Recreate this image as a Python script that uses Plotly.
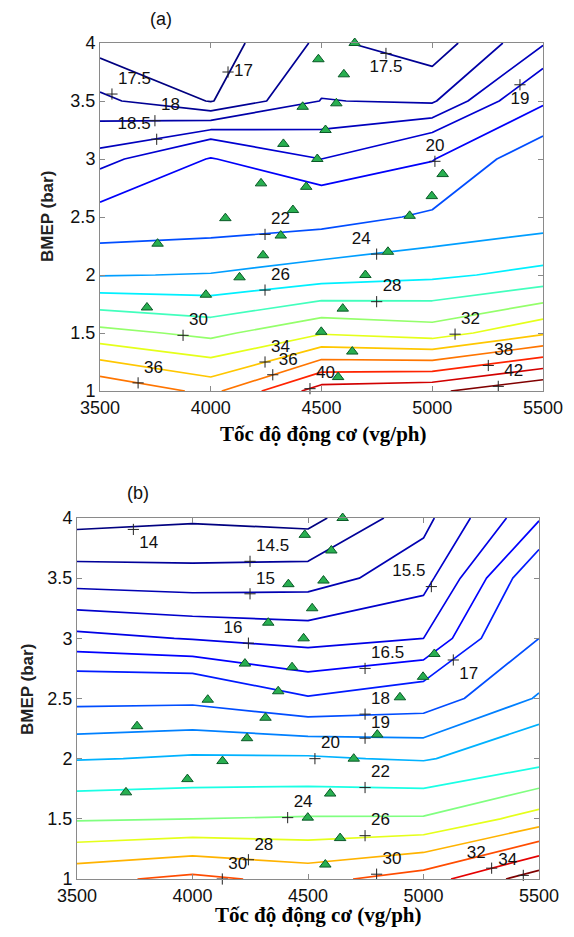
import plotly.graph_objects as go

# ---------------- data ----------------
speed = [3500, 4000, 4500, 5000, 5500]          # rpm (grid columns)
bmep = [1.0, 1.5, 2.0, 2.5, 3.0, 3.5, 4.0]        # bar (grid rows)

# panel (a) map values, rows = bmep, cols = speed
z_a = [
    [37.8, 35.45, 41.0, 41.6, 44.0],
    [30.7, 29.45, 31.8, 31.0, 33.7],
    [23.9, 24.1, 25.0, 25.6, 26.6],
    [20.45, 20.82, 21.2, 22.3, 23.0],
    [18.7, 20.06, 19.0, 19.9, 23.5],
    [17.63, 16.97, 18.02, 17.93, 19.7],
    [16.78, 16.73, 17.6, 17.21, 18.45],
]
levels_a = [17, 17.5, 18, 18.5, 19, 20, 22, 24, 26, 28, 30, 32, 34, 36, 38, 40, 42]

# panel (b) map values
z_b = [
    [29.45, 30.5, 29.36, 31.0, 35.2],
    [23.8, 24.0, 24.16, 24.2, 26.9],
    [19.9, 20.15, 20.15, 19.85, 21.2],
    [17.7, 17.74, 17.05, 17.4, 19.1],
    [16.16, 15.97, 15.81, 16.0, 18.0],
    [14.76, 14.69, 14.76, 15.3, 17.5],
    [13.82, 13.93, 13.83, 14.85, 16.45],
]
levels_b = [14, 14.5, 15, 15.5, 16, 16.5, 17, 18, 19, 20, 22, 24, 26, 28, 30, 32, 34]

# measured operating points (same for both panels)
pts_speed = [4650, 4486, 4601, 4415, 4567, 4518, 4328, 4481, 4227, 4431, 5047, 4998, 4898,
             4371, 4066, 4316, 3760, 4236, 4130, 3978, 3712, 4800, 4698, 4596, 4499, 4639, 4575]
pts_bmep = [4.0, 3.86, 3.73, 3.45, 3.48, 3.25, 3.13, 3.00, 2.79, 2.76, 2.87, 2.68, 2.51,
            2.56, 2.49, 2.34, 2.27, 2.17, 1.98, 1.83, 1.72, 2.20, 2.00, 1.71, 1.51, 1.34, 1.12]

# contour labels (a)
lab_a_text = ["17", "17.5", "17.5", "18", "18.5", "19", "20", "22", "24", "26", "28",
              "30", "32", "34", "36", "36", "38", "40", "42"]
lab_a_x = [4078, 3554, 4791, 3748, 3756, 5396, 5012, 4245, 4749, 4245, 4749,
           3875, 5103, 4245, 3672, 4280, 5253, 4448, 5298]
lab_a_y = [3.75, 3.56, 3.91, 3.33, 3.17, 3.64, 2.98, 2.35, 2.18, 1.87, 1.77,
           1.48, 1.49, 1.25, 1.07, 1.14, 1.22, 1.02, 1.04]
lab_a_pos = ["middle right", "top right", "bottom center", "top right", "top left",
             "bottom center", "top center", "top right", "top left", "top right", "top right",
             "top right", "top right", "top right", "top right", "top right", "top right",
             "top right", "top right"]

# contour labels (b)
lab_b_text = ["14", "14.5", "15", "15.5", "16", "16.5", "17", "18", "19", "20", "22",
              "24", "26", "28", "30", "30", "32", "34"]
lab_b_x = [3744, 4249, 4249, 5034, 4242, 4747, 5129, 4747, 4747, 4530, 4747,
           4412, 4747, 4242, 4129, 4797, 5295, 5432]
lab_b_y = [3.905, 3.64, 3.37, 3.43, 2.96, 2.75, 2.82, 2.37, 2.17, 2.0, 1.76,
           1.51, 1.36, 1.16, 1.0, 1.04, 1.09, 1.03]
lab_b_pos = ["bottom right", "top right", "top right", "top left", "top left", "top right",
             "bottom right", "top right", "top right", "top right", "top right",
             "top right", "top right", "top right", "top right", "top right", "top left",
             "top left"]

x_ticks = [3500, 4000, 4500, 5000, 5500]
y_ticks = [1, 1.5, 2, 2.5, 3, 3.5, 4]

# ---------------- styling ----------------
SANS = "Liberation Sans, Arial, sans-serif"
SERIF = "Liberation Serif, Times New Roman, serif"


def jet(t):
    def c(v):
        return int(round(255 * max(0.0, min(1.0, v))))
    return "rgb(%d,%d,%d)" % (c(1.5 - abs(4 * t - 3)), c(1.5 - abs(4 * t - 2)), c(1.5 - abs(4 * t - 1)))


fig = go.Figure()


def add_contours(z, levels, xa, ya):
    lo, hi = min(levels), max(levels)
    for lv in levels:
        col = jet((lv - lo) / (hi - lo))
        fig.add_trace(go.Contour(
            x=speed, y=bmep, z=z, autocontour=False,
            contours=dict(coloring="lines", start=lv, end=lv, size=1, showlabels=False),
            line=dict(width=1.7, smoothing=0),
            colorscale=[[0, col], [1, col]], showscale=False,
            hoverinfo="skip", xaxis=xa, yaxis=ya))


add_contours(z_a, levels_a, "x", "y")
add_contours(z_b, levels_b, "x2", "y2")

for xa, ya, lt, lx, ly, lp in [("x", "y", lab_a_text, lab_a_x, lab_a_y, lab_a_pos),
                               ("x2", "y2", lab_b_text, lab_b_x, lab_b_y, lab_b_pos)]:
    fig.add_trace(go.Scatter(
        x=pts_speed, y=pts_bmep, mode="markers", xaxis=xa, yaxis=ya,
        marker=dict(symbol="triangle-up", size=10, color="rgb(40,175,80)",
                    line=dict(color="rgb(10,90,40)", width=1)),
        cliponaxis=False, hoverinfo="skip", showlegend=False))
    fig.add_trace(go.Scatter(
        x=lx, y=ly, text=lt, mode="markers+text", textposition=lp, xaxis=xa, yaxis=ya,
        marker=dict(symbol="cross-thin", size=8, line=dict(color="#222", width=1)),
        textfont=dict(family=SANS, size=17, color="#111"),
        cliponaxis=False, hoverinfo="skip", showlegend=False))

W, H = 574, 937


def xd(l, r):
    return [l / W, r / W]


def yd(t, b):
    return [1 - b / H, 1 - t / H]


axis_common = dict(showline=True, linecolor="#8a8a8a", linewidth=1, mirror="ticks",
                   ticks="inside", ticklen=5, tickcolor="#8a8a8a", showgrid=False,
                   zeroline=False, automargin=False,
                   tickfont=dict(family=SANS, size=18, color="#111"))

fig.update_layout(
    width=W, height=H, margin=dict(l=0, r=0, t=0, b=0, pad=0, autoexpand=False),
    paper_bgcolor="white", plot_bgcolor="white", showlegend=False,
    xaxis=dict(domain=xd(100, 543), range=[3500, 5500], tickvals=x_ticks, anchor="y", **axis_common),
    yaxis=dict(domain=yd(43, 391), range=[1, 4], tickvals=y_ticks, anchor="x", **axis_common),
    xaxis2=dict(domain=xd(77, 539), range=[3500, 5500], tickvals=x_ticks, anchor="y2", **axis_common),
    yaxis2=dict(domain=yd(518, 879), range=[1, 4], tickvals=y_ticks, anchor="x2", **axis_common),
)

ann = []


def add_text(text, cx, cy, font, angle=0):
    ann.append(dict(text=text, x=cx / W, y=1 - cy / H, showarrow=False, xref="paper", yref="paper",
                    xanchor="center", yanchor="middle", textangle=angle, font=font))


add_text("(a)", 161, 19, dict(family=SANS, size=18, color="#111"))
add_text("(b)", 138, 493, dict(family=SANS, size=18, color="#111"))
for cx, cy in [(323, 434), (318, 915)]:
    add_text("<b>Tốc độ động cơ (vg/ph)</b>", cx, cy, dict(family=SERIF, size=21, color="#000"))
for cx, cy in [(48, 217), (27, 690)]:
    add_text("<b>BMEP (bar)</b>", cx, cy, dict(family=SANS, size=17, color="#222"), angle=-90)
fig.update_layout(annotations=ann)

fig.write_html("out.html")
